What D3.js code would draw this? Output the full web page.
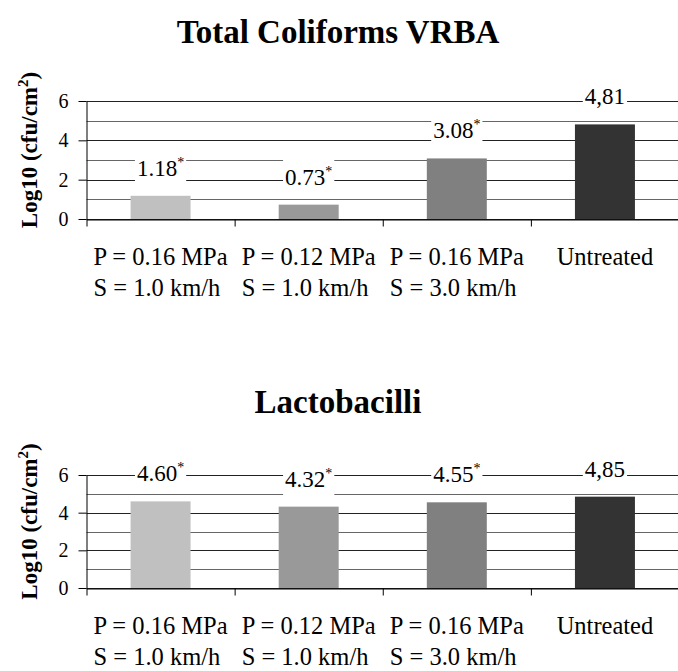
<!DOCTYPE html>
<html>
<head>
<meta charset="utf-8">
<script src="https://cdn.jsdelivr.net/npm/d3@7"></script>
<style>
  body { margin: 0; background: #fff; }
  svg { display: block; }
  text { font-family: "Liberation Serif", "Times New Roman", "DejaVu Serif", serif; }
</style>
</head>
<body>
<svg width="678" height="671"></svg>
<script>
// categories (two lines each)
var catLine1 = ["P = 0.16 MPa", "P = 0.12 MPa", "P = 0.16 MPa", "Untreated"];
var catLine2 = ["S = 1.0 km/h", "S = 1.0 km/h", "S = 3.0 km/h", ""];

// Total Coliforms VRBA
var coliValues = [1.18, 0.73, 3.08, 4.81];
var coliLabels = ["1.18", "0.73", "3.08", "4,81"];

// Lactobacilli
var lactoValues = [4.60, 4.32, 4.55, 4.85];
var lactoLabels = ["4.60", "4.32", "4.55", "4,85"];

// significance marks
var starred = [true, true, true, false];

var yTicks = [0, 2, 4, 6];
var yDomain = [0, 6];

var serif = "Liberation Serif, Times New Roman, serif";

var svg = d3.select("svg");

var color = d3.scaleOrdinal()
    .domain(d3.range(catLine1.length))
    .range(["#c0c0c0", "#999999", "#808080", "#333333"]);

var x = d3.scaleBand()
    .domain(d3.range(catLine1.length))
    .range([86.5, 679])
    .paddingInner(0.595)
    .paddingOuter(0.2975);

// boundaries between categories, for the small tick marks
var xEdge = d3.scaleLinear()
    .domain([0, catLine1.length])
    .range(x.range());

function drawChart(title, values, labels, opts) {
  var y = d3.scaleLinear().domain(yDomain).range([opts.bottom, opts.top]);
  var g = svg.append("g").attr("font-family", serif);

  g.append("text")
      .attr("x", 338)
      .attr("y", opts.titleY)
      .attr("text-anchor", "middle")
      .attr("font-family", serif)
      .attr("font-weight", "bold")
      .attr("font-size", 33)
      .text(title);

  // gridlines every unit
  g.append("g")
    .selectAll("line")
    .data(y.ticks(6))
    .enter().append("line")
      .attr("x1", 86.5)
      .attr("x2", 679)
      .attr("y1", function(d) { return Math.round(y(d)) + 0.5; })
      .attr("y2", function(d) { return Math.round(y(d)) + 0.5; })
      .attr("stroke", function(d) { return d % 2 ? "#666" : "#222"; })
      .attr("stroke-width", 1);

  // bars
  g.append("g")
    .selectAll("rect")
    .data(values)
    .enter().append("rect")
      .attr("x", function(d, i) { return x(i); })
      .attr("y", function(d) { return y(d); })
      .attr("width", x.bandwidth())
      .attr("height", function(d) { return y(0) - y(d); })
      .attr("fill", function(d, i) { return color(i); });

  // x axis with category boundary ticks
  var xa = g.append("g")
      .attr("transform", "translate(0," + (Math.round(y(0)) + 0.5) + ")")
      .call(d3.axisBottom(xEdge).ticks(catLine1.length).tickFormat("").tickSize(7).tickSizeOuter(0));
  xa.selectAll("path, line").attr("stroke", "#000");

  // y axis
  var ya = g.append("g")
      .attr("transform", "translate(86.5,0)")
      .call(d3.axisLeft(y).tickValues(yTicks).tickFormat(d3.format("d"))
        .tickSize(8).tickPadding(10).tickSizeOuter(0));
  ya.attr("font-family", serif);
  ya.selectAll("path, line").attr("stroke", "#000");
  ya.selectAll("text")
      .attr("font-family", serif)
      .attr("font-size", 20)
      .attr("fill", "#000");

  // category labels
  var cats = g.append("g").selectAll("g")
    .data(catLine1)
    .enter().append("g")
      .attr("transform", function(d, i) {
        return "translate(" + (x(i) + x.bandwidth() / 2) + "," + y(0) + ")";
      });
  cats.each(function(d, i) {
    var c = d3.select(this);
    var t1 = c.append("text")
        .attr("y", 46)
        .attr("font-family", serif)
        .attr("font-size", 24.5)
        .attr("text-anchor", "middle")
        .text(d);
    var w = t1.node().getComputedTextLength();
    if (catLine2[i]) {
      c.append("text")
          .attr("x", -w / 2)
          .attr("y", 77)
          .attr("font-family", serif)
          .attr("font-size", 24.5)
          .text(catLine2[i]);
    }
  });

  // y axis title
  var yt = g.append("text")
      .attr("transform", "translate(37," + ((opts.top + opts.bottom) / 2 - 10) + ") rotate(-90)")
      .attr("text-anchor", "middle")
      .attr("font-family", serif)
      .attr("font-weight", "bold")
      .attr("font-size", 23);
  yt.append("tspan").text("Log10 (cfu/cm");
  yt.append("tspan").attr("dy", -9).attr("font-size", 15).text("2");
  yt.append("tspan").attr("dy", 9).text(")");

  // value labels with white box
  var lab = g.append("g").selectAll("g")
    .data(values)
    .enter().append("g")
      .attr("transform", function(d, i) {
        return "translate(" + (x(i) + x.bandwidth() / 2) + "," + (y(d) - 20) + ")";
      });
  lab.each(function(d, i) {
    var l = d3.select(this);
    var t = l.append("text")
        .attr("text-anchor", "middle")
        .attr("font-family", serif)
        .attr("font-size", 23);
    t.append("tspan").text(labels[i]);
    if (starred[i]) {
      t.append("tspan").attr("dy", -9).attr("font-size", 14).text("*");
    }
    var b = t.node().getBBox();
    l.insert("rect", "text")
        .attr("x", b.x - 2)
        .attr("y", -29)
        .attr("width", b.width + 4)
        .attr("height", 38)
        .attr("fill", "#fff");
  });
}

drawChart("Total Coliforms VRBA", coliValues, coliLabels,
    { titleY: 43, top: 101, bottom: 219 });
drawChart("Lactobacilli", lactoValues, lactoLabels,
    { titleY: 413, top: 475, bottom: 588 });
</script>
</body>
</html>
